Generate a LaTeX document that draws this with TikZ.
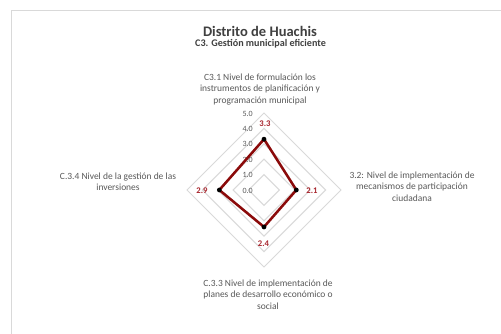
\documentclass[tikz,border=0pt]{standalone}
\usepackage{fontspec}
\setmainfont{Carlito}
\definecolor{txtgray}{HTML}{595959}
\definecolor{gridgray}{HTML}{D9D9D9}
\definecolor{serieline}{HTML}{8B0A0A}
\definecolor{lblred}{HTML}{A8262E}
\definecolor{titlecol}{HTML}{404040}
\tikzset{
  axislabel/.style={font=\fontsize{7.1}{8.6}\selectfont, text=txtgray, align=center, inner sep=0pt},
  ticklabel/.style={font=\fontsize{6}{7}\selectfont, text=txtgray, anchor=east, inner sep=0pt},
  datalabel/.style={font=\fontsize{6.5}{7}\selectfont\bfseries, text=lblred, inner sep=0pt},
  ring/.style={draw=gridgray, line width=0.75pt},
  serie/.style={draw=serieline, line width=1.9pt, line join=round},
  marker/.style={circle, fill=black, inner sep=0pt, minimum size=3.6pt}
}
\begin{document}
\begin{tikzpicture}[x=0.75pt, y=-0.75pt]
\useasboundingbox (0,0) rectangle (501,334);
\fill[white] (0,0) rectangle (501,334);
\draw[gridgray, line width=0.75pt] (11,340) -- (11,11) -- (510,11);
% title
\node[font=\fontsize{10.9}{13}\selectfont\bfseries, text=titlecol, inner sep=0pt] (title) at (260,31) {Distrito de Huachis};
\node[font=\fontsize{7.6}{9}\selectfont\bfseries, text=titlecol, inner sep=0pt] (subtitle) at (260.5,43.5) {C3. Gestión municipal eficiente};
% rings
\foreach \k in {1,...,5}{
  \draw[ring] (264,{190-15.4*\k}) -- ({264+15.4*\k},190) -- (264,{190+15.4*\k}) -- ({264-15.4*\k},190) -- cycle;
}
% tick labels
\foreach \k in {0,...,5}{
  \node[ticklabel] (t\k) at (253,{190.5-15.4*\k}) {\k.0};
}
% data points
\coordinate (p1) at (264,{190-15.4*3.3});
\coordinate (p2) at ({264+15.4*2.1},190);
\coordinate (p3) at (264,{190+15.4*2.4});
\coordinate (p4) at ({264-15.4*2.9},190);
\draw[serie] (p1) -- (p2) -- (p3) -- (p4) -- cycle;
\foreach \p in {p1,p2,p3,p4}{ \node[marker] at (\p) {}; }
% data labels
\node[datalabel] (d1) at (265,124) {3.3};
\node[datalabel] (d2) at (312,190.5) {2.1};
\node[datalabel] (d3) at (263.5,244) {2.4};
\node[datalabel] (d4) at (202,190.5) {2.9};
% axis labels
\node[axislabel] (a1) at (260,89.5) {C3.1 Nivel de formulación los\\instrumentos de planificación y\\programación municipal};
\node[axislabel] (a2) at (412,186.5) {3.2: Nivel de implementación de\\mecanismos de participación\\ciudadana};
\node[axislabel] (a3) at (268,294.5) {C.3.3 Nivel de implementación de\\planes de desarrollo económico o\\social};
\node[axislabel] (a4) at (118,181.5) {C.3.4 Nivel de la gestión de las\\inversiones};
\end{tikzpicture}
\end{document}
